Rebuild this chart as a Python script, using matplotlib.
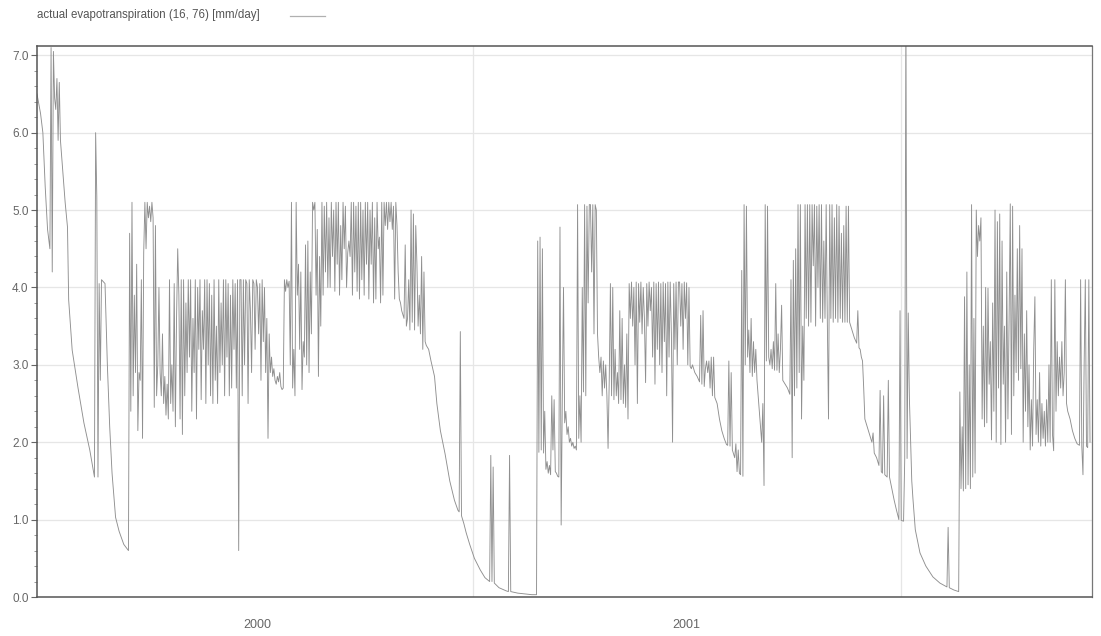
import numpy as np
import matplotlib
matplotlib.use("Agg")
import matplotlib.pyplot as plt
import matplotlib.dates as mdates
from matplotlib.lines import Line2D
from matplotlib.ticker import MultipleLocator

plt.rcParams['font.family'] = ['Liberation Sans', 'DejaVu Sans']

series_label = "actual evapotranspiration (16, 76) [mm/day]"
start_date = "1999-12-26"
x_end_day = 899.7
y_max = 7.12
y_ticks = [0.0, 1.0, 2.0, 3.0, 4.0, 5.0, 6.0, 7.0]
year_labels = ["2000", "2001"]
year_label_dates = ["2000-07-01", "2001-07-02"]
year_grid_dates = ["2001-01-01", "2002-01-01"]

# (days since start_date, mm/day)
dry_1999_2000 = [
    (0, 6.50), (3, 6.25), (5, 6.00), (7, 5.30), (9, 4.75), (11, 4.50), (12, 7.10), (13, 4.20),
    (14, 7.05), (15, 6.45), (16, 6.30), (17, 6.70), (18, 5.90), (19, 6.65), (20, 5.90), (22, 5.50),
    (24, 5.10), (26, 4.78), (27, 3.84), (30, 3.19), (35, 2.70), (40, 2.25), (45, 1.90), (49, 1.55),
    (50, 6.00), (51, 5.17), (52, 1.55), (53, 4.05), (54, 2.80), (55, 4.10), (58, 4.05), (60, 3.00),
    (62, 2.20), (64, 1.60), (67, 1.03), (70, 0.85), (74, 0.68), (78, 0.60),
]

wet_2000 = [
    (79, 4.70), (80, 2.40), (81, 5.10), (82, 2.60), (83, 3.90), (84, 2.90), (85, 4.30), (86, 2.15),
    (87, 2.90), (88, 2.80), (89, 4.10), (90, 2.05), (91, 4.45), (92, 5.10), (93, 4.50), (94, 5.10),
    (95, 4.90), (96, 5.05), (97, 4.85), (98, 5.10), (99, 4.90), (100, 2.45), (101, 4.80), (102, 2.60),
    (103, 3.00), (104, 4.00), (105, 2.90), (106, 2.60), (107, 3.40), (108, 2.50), (109, 2.85), (110, 2.35),
    (111, 2.75), (112, 2.30), (113, 4.10), (114, 2.50), (115, 3.00), (116, 2.40), (117, 4.05), (118, 2.20),
    (119, 3.60), (120, 4.50), (121, 3.90), (122, 2.30), (123, 4.10), (124, 2.10), (125, 4.10), (126, 2.60),
    (127, 3.80), (128, 2.90), (129, 4.10), (130, 3.10), (131, 4.10), (132, 2.40), (133, 3.60), (134, 2.90),
    (135, 4.10), (136, 2.30), (137, 4.00), (138, 3.20), (139, 4.10), (140, 2.55), (141, 3.70), (142, 3.20),
    (143, 4.10), (144, 2.50), (145, 4.10), (146, 3.00), (147, 4.05), (148, 2.60), (149, 3.90), (150, 2.50),
    (151, 4.10), (152, 2.80), (153, 3.50), (154, 2.50), (155, 4.10), (156, 2.90), (157, 3.80), (158, 3.00),
    (159, 4.10), (160, 2.60), (161, 4.10), (162, 3.10), (163, 4.05), (164, 2.60), (165, 3.90), (166, 2.70),
    (167, 4.10), (168, 3.20), (169, 4.05), (170, 2.70), (171, 4.10), (172, 0.60), (173, 4.10),
]

summer_2000 = [
    (174, 4.10), (175, 2.60), (176, 4.10), (177, 3.00), (178, 4.10), (179, 4.05), (180, 2.50), (181, 4.10),
    (182, 3.70), (183, 2.90), (184, 4.10), (185, 4.05), (186, 3.20), (187, 4.10), (188, 4.00), (189, 3.40),
    (190, 4.05), (191, 2.80), (192, 4.10), (193, 3.30), (194, 4.00), (195, 2.90), (196, 3.60), (197, 2.05),
    (198, 3.40), (199, 2.90), (200, 3.10), (201, 2.85), (202, 2.95), (203, 2.80), (204, 2.75), (205, 2.85),
    (206, 2.78), (207, 2.90), (208, 2.72), (209, 2.68), (210, 2.70), (211, 4.10), (212, 3.95), (213, 4.10),
    (214, 4.00), (215, 4.08), (216, 3.00), (217, 5.10), (218, 2.70), (219, 3.20), (220, 2.60), (221, 5.10),
    (222, 3.90), (223, 4.30), (224, 3.20), (225, 4.20), (226, 2.68), (227, 3.30), (228, 3.10), (229, 4.55),
    (230, 3.00), (231, 4.60), (232, 2.90), (233, 4.20), (234, 3.40), (235, 5.10), (236, 5.00), (237, 5.10),
    (238, 3.90), (239, 4.75), (240, 2.85), (241, 4.40), (242, 3.50), (243, 5.10), (244, 3.90), (245, 5.05),
    (246, 4.20), (247, 5.10), (248, 4.00), (249, 4.90), (250, 4.00), (251, 5.10), (252, 4.40), (253, 5.00),
    (254, 3.95), (255, 5.10), (256, 4.30), (257, 5.10), (258, 3.90), (259, 4.80), (260, 4.10), (261, 5.10),
    (262, 4.50), (263, 5.05), (264, 4.00), (265, 4.45), (266, 4.60), (267, 4.40), (268, 5.10), (269, 3.90),
    (270, 5.10), (271, 4.20), (272, 5.05), (273, 3.95), (274, 5.10), (275, 3.85), (276, 5.10), (277, 4.10),
    (278, 5.00), (279, 3.90), (280, 5.10), (281, 4.30), (282, 5.10), (283, 3.85), (284, 5.00), (285, 4.30),
    (286, 5.10), (287, 3.80), (288, 4.90), (289, 3.85), (290, 5.10), (291, 4.50), (292, 4.65), (293, 3.80),
    (294, 5.10), (295, 3.90), (296, 5.10), (297, 4.80), (298, 5.10), (299, 4.75), (300, 5.10), (301, 4.85),
    (302, 5.10), (303, 4.75), (304, 5.05), (305, 3.85), (306, 5.10), (307, 4.80), (308, 4.20), (309, 3.85),
    (310, 3.80), (311, 3.70), (312, 3.65), (313, 3.60), (314, 4.55), (315, 3.50), (316, 3.60), (317, 4.10),
    (318, 3.45), (319, 5.00), (320, 3.55), (321, 4.95), (322, 3.45), (323, 4.80), (324, 4.30), (325, 3.50),
    (326, 3.90), (327, 3.40), (328, 4.40), (329, 3.20), (330, 4.20), (331, 3.30), (332, 3.25),
]

dry_2000 = [
    (334, 3.20), (336, 3.05), (339, 2.85), (341, 2.50), (344, 2.15), (348, 1.85), (352, 1.50), (356, 1.25),
    (359, 1.12), (360, 1.10), (361, 3.43), (362, 1.05), (364, 0.95), (366, 0.83), (369, 0.68), (373, 0.50),
    (378, 0.35), (382, 0.25), (386, 0.20), (387, 1.83), (388, 0.20), (389, 1.68), (390, 0.18), (394, 0.12),
    (400, 0.08), (402, 0.07), (403, 1.83), (404, 0.07), (410, 0.05), (416, 0.04), (422, 0.03), (426, 0.03),
]

wet_2001 = [
    (427, 4.60), (428, 1.87), (429, 4.65), (430, 1.90), (431, 4.50), (432, 1.86), (433, 2.40), (434, 1.65),
    (435, 1.75), (436, 1.60), (437, 1.70), (438, 1.58), (439, 2.60), (440, 1.90), (441, 2.55), (442, 1.62),
    (443, 1.60), (444, 1.56), (445, 1.55), (446, 4.78), (447, 0.93), (448, 2.60), (449, 4.00), (450, 2.25),
    (451, 2.40), (452, 2.10), (453, 2.20), (454, 2.00), (455, 2.05), (456, 1.95), (457, 2.00), (458, 1.92),
    (459, 1.95), (460, 1.90), (461, 5.07), (462, 2.05), (463, 2.60), (464, 2.00), (465, 4.00), (466, 2.65),
    (467, 5.07), (468, 2.60), (469, 5.05), (470, 3.80), (471, 5.07), (472, 5.07), (473, 4.20), (474, 5.07),
    (475, 3.40), (476, 5.07), (477, 5.00), (478, 3.40), (479, 3.10), (480, 2.90), (481, 3.10), (482, 2.60),
    (483, 3.05), (484, 2.70), (485, 3.00), (486, 2.60), (487, 1.92), (488, 2.80), (489, 4.05), (490, 2.60),
    (491, 4.00), (492, 2.55), (493, 3.20), (494, 2.60), (495, 2.90), (496, 2.50), (497, 3.70), (498, 2.55),
    (499, 3.60), (500, 2.50), (501, 3.00), (502, 2.45), (503, 3.40), (504, 2.30), (505, 4.05), (506, 3.60),
    (507, 4.07), (508, 3.50), (509, 4.00), (510, 3.00), (511, 4.07), (512, 2.50), (513, 4.05), (514, 3.55),
    (515, 4.07), (516, 3.40), (517, 4.00), (518, 3.60), (519, 2.77), (520, 4.05), (521, 3.50), (522, 4.07),
    (523, 3.70), (524, 4.00), (525, 3.10), (526, 4.07), (527, 2.75), (528, 4.05), (529, 3.20), (530, 4.07),
    (531, 3.00), (532, 4.05), (533, 2.90), (534, 4.07), (535, 3.30), (536, 4.05), (537, 2.60), (538, 4.07),
    (539, 3.10), (540, 4.07), (541, 3.40), (542, 2.00), (543, 4.05), (544, 3.20), (545, 4.07), (546, 3.00),
    (547, 4.07), (548, 4.07), (549, 3.50), (550, 4.05), (551, 3.20), (552, 4.07), (553, 3.60), (554, 4.06),
    (555, 3.00), (556, 4.00), (557, 2.98),
]

summer_2001 = [
    (558, 2.95), (559, 3.00), (561, 2.90), (563, 2.85), (565, 2.78), (566, 3.64), (567, 2.75), (568, 3.70),
    (569, 2.72), (570, 2.95), (571, 3.05), (572, 2.90), (573, 3.05), (574, 2.70), (575, 3.10), (576, 2.60),
    (577, 3.10), (578, 2.58), (580, 2.50), (582, 2.30), (584, 2.15), (586, 2.05), (588, 1.97), (589, 1.96),
    (590, 3.05), (591, 1.95), (592, 2.90), (593, 1.90), (595, 1.80), (596, 1.98), (597, 1.62), (598, 1.90),
    (599, 1.60), (600, 1.58), (601, 4.22), (602, 1.56), (603, 5.07), (604, 3.00), (605, 5.05), (606, 3.10),
    (607, 3.45), (608, 2.90), (609, 3.60), (610, 2.85), (611, 3.30), (612, 2.90), (613, 3.20), (614, 2.80),
    (616, 2.40), (618, 2.00), (619, 2.50), (620, 1.44), (621, 5.07), (622, 3.05), (623, 5.05), (624, 3.10),
    (625, 3.00), (626, 3.20), (627, 2.95), (628, 3.30), (629, 2.93), (630, 4.05), (631, 2.93), (632, 3.40),
    (633, 2.90), (634, 3.20), (635, 3.77), (636, 2.80), (638, 2.75), (640, 2.70), (642, 2.62), (643, 4.10),
    (644, 1.80), (645, 4.35), (646, 2.60), (647, 4.50), (648, 2.70), (649, 5.07), (650, 2.90), (651, 5.07),
    (652, 2.30), (653, 3.50), (654, 2.80), (655, 5.07), (656, 3.60), (657, 5.07), (658, 3.50), (659, 5.07),
    (660, 3.55), (661, 5.07), (662, 4.28), (663, 5.07), (664, 3.50), (665, 5.05), (666, 4.00), (667, 5.07),
    (668, 3.60), (669, 5.07), (670, 3.55), (671, 4.60), (672, 3.60), (673, 5.07), (674, 3.55), (675, 2.30),
    (676, 5.07), (677, 3.60), (678, 5.07), (679, 3.55), (680, 4.90), (681, 3.60), (682, 5.07), (683, 3.55),
    (684, 5.05), (685, 3.60), (686, 4.70), (687, 3.55), (688, 4.80), (689, 3.55), (690, 5.05), (691, 3.55),
    (692, 5.05), (693, 3.55), (695, 3.45), (697, 3.35), (699, 3.28), (700, 3.70), (701, 3.22), (702, 3.20),
    (703, 3.10), (704, 3.05), (705, 2.70), (706, 2.30), (708, 2.20), (710, 2.10), (712, 2.00), (713, 2.12),
    (714, 1.86), (716, 1.80), (718, 1.70), (719, 2.67), (720, 1.62), (721, 1.60), (722, 2.60), (723, 1.58),
    (725, 1.55), (726, 2.80), (727, 1.55), (729, 1.40), (731, 1.25), (733, 1.12), (735, 1.00), (736, 3.70),
]

dry_2001_2002 = [
    (737, 0.99), (739, 0.98), (740, 1.79), (741, 7.60), (742, 1.79), (743, 3.67), (744, 2.55), (745, 2.00),
    (746, 1.50), (747, 1.27), (749, 0.87), (753, 0.57), (758, 0.40), (764, 0.26), (770, 0.18), (776, 0.13),
    (777, 0.90), (778, 0.12), (782, 0.09), (786, 0.07),
]

wet_2002 = [
    (787, 2.65), (788, 1.40), (789, 2.20), (790, 1.37), (791, 3.88), (792, 1.40), (793, 4.20), (794, 1.45),
    (795, 3.00), (796, 1.40), (797, 5.07), (798, 1.55), (799, 3.60), (800, 1.60), (801, 5.00), (802, 4.40),
    (803, 4.80), (804, 4.60), (805, 4.90), (806, 2.30), (807, 3.50), (808, 2.20), (809, 4.00), (810, 2.25),
    (811, 3.99), (812, 2.75), (813, 3.30), (814, 2.03), (815, 3.80), (816, 2.40), (817, 5.00), (818, 2.00),
    (819, 4.85), (820, 2.70), (821, 4.95), (822, 1.97), (823, 4.60), (824, 2.75), (825, 3.50), (826, 2.00),
    (827, 4.20), (828, 2.30), (829, 3.60), (830, 5.08), (831, 2.10), (832, 5.05), (833, 2.60), (834, 3.90),
    (835, 2.90), (836, 4.50), (837, 2.80), (838, 4.80), (839, 2.95), (840, 4.50), (841, 2.00), (842, 3.40),
    (843, 2.40), (844, 3.70), (845, 2.20), (846, 3.00), (847, 1.90), (848, 2.55), (849, 1.95), (850, 3.20),
    (851, 3.88), (852, 2.10), (853, 2.55), (854, 2.00), (855, 2.90), (856, 1.95), (857, 2.50), (858, 2.05),
    (859, 2.40), (860, 1.95), (861, 2.55), (862, 2.00), (863, 3.00), (864, 2.00), (865, 4.10), (866, 2.10),
    (867, 1.89), (868, 4.10), (869, 2.40), (870, 3.30), (871, 2.60), (872, 3.10), (873, 2.70), (874, 3.30),
    (875, 2.60), (876, 2.90), (877, 4.10), (878, 2.50), (879, 2.40), (881, 2.30), (883, 2.15), (885, 2.05),
    (887, 1.98), (889, 1.96), (890, 4.10), (891, 1.95), (892, 1.58), (893, 3.00), (894, 4.10), (895, 1.95),
    (896, 1.93), (897, 4.10), (898, 2.00),
]

points = (dry_1999_2000 + wet_2000 + summer_2000 + dry_2000 + wet_2001
          + summer_2001 + dry_2001_2002 + wet_2002)
day = np.array([p[0] for p in points], dtype=float)
et = np.array([p[1] for p in points], dtype=float)

t0 = mdates.date2num(np.datetime64(start_date))
x = t0 + day

W, H = 1101, 636
fig = plt.figure(figsize=(W / 100, H / 100), dpi=100)
fig.patch.set_facecolor('white')
ax = fig.add_axes([37 / W, 39 / H, 1055 / W, 551 / H])

# grid
for yv in y_ticks[1:]:
    ax.axhline(yv, color='#e6e6e6', lw=0.9, zorder=0)
for d in year_grid_dates:
    ax.axvline(mdates.date2num(np.datetime64(d)), color='#e6e6e6', lw=0.9, zorder=0)

ax.plot(x, et, color='#8f8f8f', lw=0.65, zorder=2)

ax.set_xlim(t0, t0 + x_end_day)
ax.set_ylim(0, y_max)

ax.set_yticks(y_ticks)
ax.set_yticklabels([f"{v:.1f}" for v in y_ticks])
ax.yaxis.set_minor_locator(MultipleLocator(0.2))
ax.tick_params(axis='y', which='major', length=4, width=0.8, color='#666',
               labelcolor='#666', labelsize=8.5, pad=2)
ax.tick_params(axis='y', which='minor', length=2.5, width=0.6, color='#888')

ax.set_xticks([mdates.date2num(np.datetime64(d)) for d in year_label_dates])
ax.set_xticklabels(year_labels)
ax.tick_params(axis='x', which='major', length=0, labelcolor='#666', labelsize=9, pad=16)
ax.tick_params(axis='x', which='minor', length=0)

for side in ['left', 'bottom', 'top']:
    ax.spines[side].set_color('#555')
    ax.spines[side].set_linewidth(1.1)
ax.spines['right'].set_color('#777')
ax.spines['right'].set_linewidth(0.9)

# legend-like header
fig.text(37 / W, 1 - 15 / H, series_label, fontsize=8.3, color='#555',
         ha='left', va='center')
fig.add_artist(Line2D([290 / W, 325 / W], [1 - 16 / H, 1 - 16 / H],
                      color='#b0b0b0', lw=0.9, transform=fig.transFigure))

fig.savefig("out.png", dpi=100, facecolor='white')
